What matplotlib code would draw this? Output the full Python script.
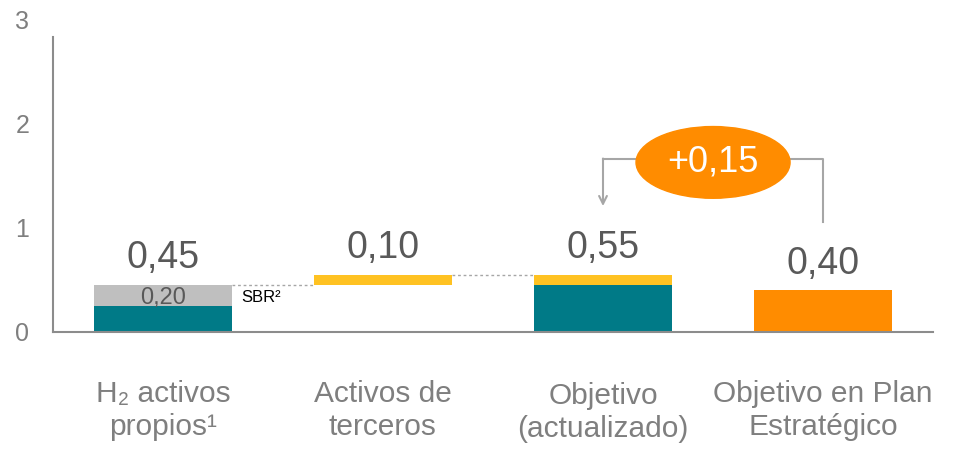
import matplotlib.pyplot as plt
from matplotlib.patches import Ellipse

# data
categories = ['H\u2082 activos\npropios\u00b9', 'Activos de\nterceros',
              'Objetivo\n(actualizado)', 'Objetivo en Plan\nEstrat\u00e9gico']
own_h2 = [0.25, 0.0, 0.45, 0.0]
sbr = [0.20, 0.0, 0.0, 0.0]
third_party = [0.0, 0.10, 0.10, 0.0]
third_base = [0.0, 0.45, 0.45, 0.0]
plan = [0.0, 0.0, 0.0, 0.40]
bar_tops = [0.45, 0.55, 0.55, 0.40]
total_labels = ['0,45', '0,10', '0,55', '0,40']
sbr_label = '0,20'
delta_label = '+0,15'
yticks = [0, 1, 2, 3]

TEAL = '#007A87'
GREY = '#BFBFBF'
YELLOW = '#FFC222'
ORANGE = '#FF8C00'
LINE = '#A6A6A6'
TXT = '#595959'
AXTXT = '#7F7F7F'

plt.rcParams['font.family'] = ['Liberation Sans', 'DejaVu Sans']

fig = plt.figure(figsize=(9.6, 4.54), dpi=100)
ax = fig.add_axes([0.055, 0.269, 0.917, 0.687])

x = list(range(len(categories)))
w = 0.63

ax.bar(x, own_h2, w, color=TEAL)
ax.bar(x, sbr, w, bottom=own_h2, color=GREY)
ax.bar(x, third_party, w, bottom=third_base, color=YELLOW)
ax.bar(x, plan, w, color=ORANGE)

# dashed connectors between steps
ax.plot([x[0] + w / 2, x[1] - w / 2], [bar_tops[0]] * 2, ls=(0, (2, 2)), color=LINE, lw=1)
ax.plot([x[1] + w / 2, x[2] - w / 2], [bar_tops[1]] * 2, ls=(0, (2, 2)), color=LINE, lw=1)

# value labels
for i, t in enumerate(total_labels):
    ax.annotate(t, (x[i], bar_tops[i]), xytext=(0, 12), textcoords='offset points',
                ha='center', va='baseline', fontsize=27, color=TXT)
ax.text(x[0], own_h2[0] + sbr[0] / 2 - 0.02, sbr_label, ha='center', va='center',
        fontsize=17, color=TXT)
ax.text(x[0] + w / 2 + 0.04, own_h2[0] + sbr[0] / 2 - 0.02, 'SBR\u00b2', ha='left',
        va='center', fontsize=12, color='black')

# bracket with arrow between plan and updated objective
yb = 1.66
ax.plot([x[3], x[3], 2.5], [1.06, yb, yb], color=LINE, lw=1.5)
ax.plot([2.5, x[2]], [yb, yb], color=LINE, lw=1.5)
ax.annotate('', xy=(x[2], 1.21), xytext=(x[2], yb + 0.007),
            arrowprops=dict(arrowstyle='->', color=LINE, lw=1.5, mutation_scale=14,
                            shrinkA=0, shrinkB=0))
ax.add_patch(Ellipse((2.5, 1.63), 0.7, 0.69, color=ORANGE, zorder=3))
ax.text(2.5, 1.63, delta_label, ha='center', va='center', fontsize=26,
        color='white', zorder=4)

# category labels, last-line baseline offsets below the axis
label_dy = [74, 74, 75.5, 74]
for i, c in enumerate(categories):
    ax.annotate(c, (x[i], 0), xytext=(0, -label_dy[i]), textcoords='offset points',
                ha='center', va='baseline', fontsize=21.5, color=AXTXT,
                linespacing=1.2)

ax.set_xlim(-0.5, 3.5)
ax.set_ylim(0, 3)
ax.set_yticks(yticks)
ax.set_xticks([])
ax.tick_params(axis='y', length=0, pad=17, labelsize=18, labelcolor=AXTXT)
for s in ['top', 'right']:
    ax.spines[s].set_visible(False)
ax.spines['left'].set_bounds(0, 2.84)
for s in ['left', 'bottom']:
    ax.spines[s].set_color('#8C8C8C')
    ax.spines[s].set_linewidth(1.5)

fig.savefig('out.png', dpi=100)
